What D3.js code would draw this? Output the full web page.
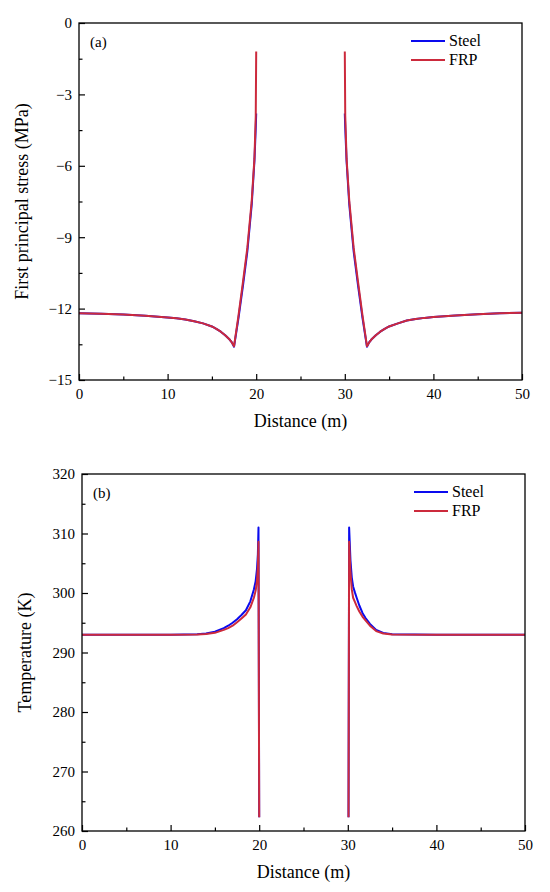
<!DOCTYPE html>
<html>
<head>
<meta charset="utf-8">
<script src="https://cdn.jsdelivr.net/npm/d3@7"></script>
</head>
<body style="margin:0; background:#fff">
<svg id="chart" width="550" height="892"></svg>
<script>
// Panel (a): first principal stress along the distance
const stressX = [0, 2.5, 5, 7.5, 10, 11, 12, 13, 14, 15, 15.5, 16, 16.5, 17, 17.25, 17.5, 18, 18.5, 19, 19.5, 19.8, 19.95, 20,
  25,
  30, 30.05, 30.2, 30.5, 31, 31.5, 32, 32.5, 32.75, 33, 33.5, 34, 34.5, 35, 36, 37, 38, 39, 40, 42.5, 45, 47.5, 50];
const stressSteel = [-12.20, -12.22, -12.25, -12.30, -12.37, -12.41, -12.46, -12.53, -12.62, -12.75, -12.85, -12.97, -13.12, -13.30, -13.42, -13.60, -12.40, -11.05, -9.60, -7.60, -5.80, -4.40, -3.80,
  null,
  -3.80, -4.40, -5.80, -7.60, -9.60, -11.05, -12.40, -13.60, -13.42, -13.30, -13.12, -12.97, -12.85, -12.75, -12.62, -12.50, -12.44, -12.39, -12.35, -12.29, -12.24, -12.20, -12.17];
const stressFRP = [-12.20, -12.22, -12.25, -12.30, -12.37, -12.41, -12.46, -12.53, -12.62, -12.75, -12.85, -12.97, -13.12, -13.30, -13.42, -13.58, -12.30, -10.90, -9.45, -7.45, -5.70, -3.90, -1.20,
  null,
  -1.20, -3.90, -5.70, -7.45, -9.45, -10.90, -12.30, -13.58, -13.42, -13.30, -13.12, -12.97, -12.85, -12.75, -12.62, -12.50, -12.44, -12.39, -12.35, -12.29, -12.24, -12.20, -12.17];

// Panel (b): temperature along the distance
const tempX = [0, 5, 10, 13, 14, 15, 16, 16.5, 17, 17.5, 18, 18.5, 19, 19.4, 19.6, 19.75, 19.85, 19.92, 20,
  25,
  30.08, 30.15, 30.3, 30.45, 30.6, 30.8, 31, 31.3, 31.67, 32, 32.5, 33.2, 34, 35, 40, 45, 50];
const tempSteel = [293, 293, 293, 293.05, 293.2, 293.5, 294.1, 294.5, 295.0, 295.6, 296.3, 297.1, 298.6, 300.6, 302.0, 304.0, 306.5, 311.0, 262.3,
  null,
  262.3, 311.0, 305.5, 302.6, 301.1, 300.1, 299.2, 297.9, 296.6, 295.8, 294.8, 293.8, 293.3, 293.05, 293, 293, 293];
const tempFRP = [293, 293, 293, 293.02, 293.1, 293.3, 293.8, 294.1, 294.5, 295.1, 295.7, 296.4, 297.6, 299.2, 300.4, 302.0, 304.5, 308.6, 262.3,
  null,
  262.3, 308.6, 303.5, 300.6, 299.2, 298.5, 297.8, 296.9, 296.0, 295.4, 294.5, 293.6, 293.2, 293.02, 293, 293, 293];

const seriesNames = ["Steel", "FRP"];
const seriesColors = ["#0a0aee", "#cc2a3c"];

const xMajor = [0, 10, 20, 30, 40, 50];
const xMinor = [5, 15, 25, 35, 45];
const stressMajor = [0, -3, -6, -9, -12, -15];
const stressMinor = [-1.5, -4.5, -7.5, -10.5, -13.5];
const tempMajor = [260, 270, 280, 290, 300, 310, 320];
const tempMinor = [265, 275, 285, 295, 305, 315];

const serif = '"Liberation Serif", monospace';
const svg = d3.select("#chart").style("font-family", serif);

function drawPanel(opt) {
  const x = d3.scaleLinear().domain([0, 50]).range([opt.left, opt.right]);
  const y = d3.scaleLinear().domain(opt.yDomain).range([opt.bottom, opt.top]);
  const g = svg.append("g");

  const fmt = d => d < 0 ? "\u2212" + Math.abs(d) : String(d);

  // bottom axis, ticks inward
  g.append("g").attr("transform", `translate(0,${opt.bottom})`)
    .call(d3.axisBottom(x).tickValues(xMajor).tickSize(-6).tickPadding(8).tickFormat(fmt));
  g.append("g").attr("transform", `translate(0,${opt.bottom})`)
    .call(d3.axisBottom(x).tickValues(xMinor).tickSize(-3.5).tickFormat(""));

  g.append("g").attr("transform", `translate(${opt.left},0)`)
    .call(d3.axisLeft(y).tickValues(opt.yMajor).tickSize(-6).tickPadding(7).tickFormat(fmt));
  g.append("g").attr("transform", `translate(${opt.left},0)`)
    .call(d3.axisLeft(y).tickValues(opt.yMinor).tickSize(-3.5).tickFormat(""));

  g.selectAll(".domain").remove();
  g.selectAll("g").attr("font-family", null);
  g.selectAll(".tick line").attr("stroke", "#000").attr("stroke-width", 1.2);
  g.selectAll(".tick text").attr("font-size", 15).attr("fill", "#000")
    .style("font-family", serif);

  // curves
  const line = d3.line()
    .defined(d => d[1] !== null)
    .x(d => x(d[0]))
    .y(d => y(d[1]));

  opt.series.forEach((vals, i) => {
    g.append("path")
      .datum(opt.xs.map((v, j) => [v, vals[j]]))
      .attr("fill", "none")
      .attr("stroke", seriesColors[i])
      .attr("stroke-width", 2)
      .attr("stroke-linejoin", "round")
      .attr("d", line);
  });

  // frame
  g.append("rect")
    .attr("x", opt.left).attr("y", opt.top)
    .attr("width", opt.right - opt.left).attr("height", opt.bottom - opt.top)
    .attr("fill", "none").attr("stroke", "#000").attr("stroke-width", 1.3);

  // panel label
  g.append("text").attr("x", opt.left + 11).attr("y", opt.top + 24)
    .style("font-family", serif).attr("font-size", 15).text(opt.label);

  // legend
  seriesNames.forEach((name, i) => {
    const ly = opt.top + 18 + i * 19;
    g.append("line").attr("x1", opt.right - 111).attr("x2", opt.right - 77)
      .attr("y1", ly).attr("y2", ly)
      .attr("stroke", seriesColors[i]).attr("stroke-width", 2);
    g.append("text").attr("x", opt.right - 73).attr("y", ly + 5)
      .style("font-family", serif).attr("font-size", 16).text(name);
  });

  // axis titles
  g.append("text").attr("x", (opt.left + opt.right) / 2).attr("y", opt.bottom + 47)
    .style("font-family", serif)
    .attr("text-anchor", "middle").attr("font-size", 18).text("Distance (m)");
  g.append("text")
    .attr("transform", `translate(${opt.yTitleX},${(opt.top + opt.bottom) / 2}) rotate(-90)`)
    .style("font-family", serif)
    .attr("text-anchor", "middle").attr("font-size", 18).text(opt.yTitle);
}

drawPanel({
  left: 79, right: 522, top: 23, bottom: 380,
  yDomain: [-15, 0], yMajor: stressMajor, yMinor: stressMinor,
  xs: stressX, series: [stressSteel, stressFRP],
  label: "(a)", yTitle: "First principal stress (MPa)", yTitleX: 28
});

drawPanel({
  left: 82, right: 525, top: 474, bottom: 831,
  yDomain: [260, 320], yMajor: tempMajor, yMinor: tempMinor,
  xs: tempX, series: [tempSteel, tempFRP],
  label: "(b)", yTitle: "Temperature (K)", yTitleX: 31
});
</script>
</body>
</html>
